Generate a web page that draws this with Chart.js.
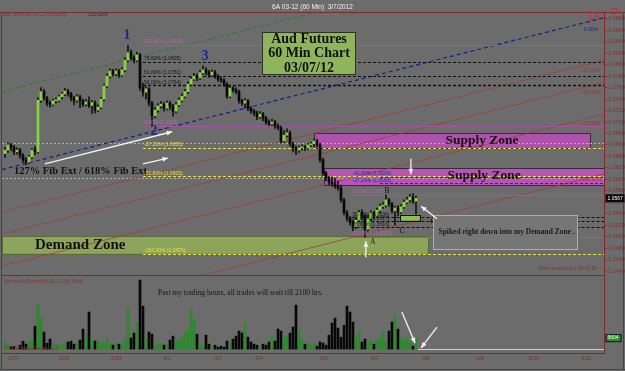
<!DOCTYPE html>
<html>
<head>
<meta charset="utf-8">
<title>6A 03-12 (60 Min) 3/7/2012</title>
<script src="https://cdn.jsdelivr.net/npm/chart.js@4.4.1/dist/chart.umd.min.js"></script>
<style>
html,body{margin:0;padding:0;background:#6c6c6c;overflow:hidden;}
canvas{display:block;}
</style>
</head>
<body>
<canvas id="chart" width="625" height="371"></canvas>
<script>
// ---------- DATA (hourly bars) ----------
const opens=[1.0645,1.0651,1.0660,1.0656,1.0648,1.0651,1.0642,1.0634,1.0630,1.0639,
1.0651,1.0648,1.0738,1.0753,1.0742,1.0733,1.0731,1.0737,1.0738,1.0744,
1.0749,1.0754,1.0749,1.0742,1.0738,1.0744,1.0737,1.0731,1.0735,1.0729,
1.0734,1.0721,1.0726,1.0740,1.0763,1.0780,1.0789,1.0784,1.0789,1.0782,
1.0791,1.0808,1.0821,1.0812,1.0808,1.0817,1.0760,1.0752,1.0758,1.0733,
1.0711,1.0721,1.0728,1.0731,1.0724,1.0733,1.0728,1.0719,1.0730,1.0738,
1.0745,1.0753,1.0766,1.0775,1.0780,1.0777,1.0786,1.0791,1.0787,1.0782,
1.0787,1.0780,1.0775,1.0773,1.0766,1.0745,1.0759,1.0756,1.0753,1.0737,
1.0733,1.0737,1.0724,1.0719,1.0716,1.0709,1.0714,1.0707,1.0700,1.0697,
1.0700,1.0693,1.0690,1.0667,1.0677,1.0681,1.0662,1.0655,1.0651,1.0655,
1.0656,1.0655,1.0660,1.0662,1.0667,1.0660,1.0634,1.0611,1.0602,1.0595,
1.0592,1.0588,1.0585,1.0564,1.0542,1.0532,1.0525,1.0518,1.0529,1.0542,
1.0536,1.0513,1.0532,1.0541,1.0536,1.0546,1.0553,1.0555,1.0564,1.0557,
1.0545,1.0550,1.0543,1.0552,1.0560,1.0564,1.0569,1.0562];
const highs=[1.0656,1.0664,1.0663,1.0659,1.0655,1.0654,1.0645,1.0638,1.0642,1.0654,
1.0657,1.0742,1.0760,1.0757,1.0745,1.0737,1.0740,1.0742,1.0747,1.0752,
1.0759,1.0757,1.0752,1.0745,1.0748,1.0747,1.0740,1.0739,1.0744,1.0738,
1.0737,1.0730,1.0743,1.0766,1.0784,1.0793,1.0792,1.0793,1.0792,1.0795,
1.0812,1.0834,1.0826,1.0816,1.0822,1.0820,1.0768,1.0762,1.0760,1.0736,
1.0725,1.0732,1.0736,1.0734,1.0737,1.0736,1.0731,1.0734,1.0742,1.0749,
1.0757,1.0770,1.0779,1.0785,1.0784,1.0790,1.0798,1.0795,1.0790,1.0791,
1.0790,1.0783,1.0779,1.0776,1.0769,1.0763,1.0762,1.0760,1.0756,1.0740,
1.0741,1.0739,1.0727,1.0722,1.0719,1.0718,1.0717,1.0710,1.0704,1.0705,
1.0703,1.0697,1.0693,1.0685,1.0688,1.0684,1.0665,1.0658,1.0658,1.0660,
1.0659,1.0663,1.0665,1.0670,1.0670,1.0663,1.0637,1.0614,1.0605,1.0604,
1.0602,1.0597,1.0590,1.0567,1.0546,1.0536,1.0529,1.0533,1.0546,1.0547,
1.0539,1.0537,1.0545,1.0544,1.0550,1.0557,1.0560,1.0573,1.0567,1.0560,
1.0553,1.0554,1.0556,1.0564,1.0569,1.0574,1.0575,1.0571];
const lows=[1.0638,1.0647,1.0650,1.0643,1.0644,1.0637,1.0629,1.0625,1.0627,1.0636,
1.0643,1.0645,1.0734,1.0738,1.0728,1.0726,1.0728,1.0733,1.0735,1.0740,
1.0746,1.0745,1.0737,1.0730,1.0734,1.0725,1.0727,1.0728,1.0725,1.0715,
1.0716,1.0718,1.0723,1.0737,1.0760,1.0777,1.0780,1.0781,1.0778,1.0779,
1.0788,1.0805,1.0808,1.0803,1.0805,1.0755,1.0745,1.0740,1.0728,1.0693,
1.0707,1.0717,1.0724,1.0719,1.0721,1.0722,1.0710,1.0716,1.0727,1.0735,
1.0742,1.0750,1.0763,1.0772,1.0772,1.0774,1.0783,1.0782,1.0778,1.0779,
1.0776,1.0771,1.0769,1.0762,1.0741,1.0742,1.0752,1.0749,1.0733,1.0729,
1.0724,1.0720,1.0715,1.0711,1.0704,1.0706,1.0702,1.0696,1.0693,1.0694,
1.0689,1.0686,1.0663,1.0664,1.0674,1.0658,1.0648,1.0643,1.0647,1.0651,
1.0650,1.0652,1.0657,1.0658,1.0656,1.0630,1.0607,1.0597,1.0590,1.0588,
1.0584,1.0581,1.0560,1.0538,1.0527,1.0520,1.0510,1.0514,1.0525,1.0530,
1.0499,1.0508,1.0528,1.0531,1.0533,1.0542,1.0549,1.0552,1.0553,1.0541,
1.0520,1.0536,1.0540,1.0549,1.0557,1.0560,1.0558,1.0539];
const closes=[1.0651,1.0660,1.0656,1.0648,1.0651,1.0642,1.0634,1.0630,1.0639,1.0651,
1.0648,1.0738,1.0753,1.0742,1.0733,1.0731,1.0737,1.0738,1.0744,1.0749,
1.0754,1.0749,1.0742,1.0738,1.0744,1.0737,1.0731,1.0735,1.0729,1.0734,
1.0721,1.0726,1.0740,1.0763,1.0780,1.0789,1.0784,1.0789,1.0782,1.0791,
1.0808,1.0821,1.0812,1.0808,1.0817,1.0760,1.0752,1.0758,1.0733,1.0711,
1.0721,1.0728,1.0731,1.0724,1.0733,1.0728,1.0719,1.0730,1.0738,1.0745,
1.0753,1.0766,1.0775,1.0780,1.0777,1.0786,1.0791,1.0787,1.0782,1.0787,
1.0780,1.0775,1.0773,1.0766,1.0745,1.0759,1.0756,1.0753,1.0737,1.0733,
1.0737,1.0724,1.0719,1.0716,1.0709,1.0714,1.0707,1.0700,1.0697,1.0700,
1.0693,1.0690,1.0667,1.0677,1.0681,1.0662,1.0655,1.0651,1.0655,1.0656,
1.0655,1.0660,1.0662,1.0667,1.0660,1.0634,1.0611,1.0602,1.0595,1.0592,
1.0588,1.0585,1.0564,1.0542,1.0532,1.0525,1.0518,1.0529,1.0542,1.0536,
1.0513,1.0532,1.0541,1.0536,1.0546,1.0553,1.0555,1.0564,1.0557,1.0545,
1.0550,1.0543,1.0552,1.0560,1.0564,1.0569,1.0562,1.0567];
const volumes=[4100,1500,1200,1400,1100,2000,4000,2500,3500,4500,
11700,23000,16300,8700,3000,5100,2000,2500,1500,2500,
3000,3600,4000,2500,3100,4600,10200,8200,18900,5100,
4100,4100,3100,2600,5100,2500,2000,3000,2500,2000,
5100,21000,5600,8200,13300,35200,21900,5600,8700,7600,
2000,2500,3000,2000,2500,4600,6600,5100,4100,6100,
8700,9700,20400,14800,7600,3100,1500,7100,2500,1500,
2000,1000,1500,1000,4100,3100,5100,6600,9200,8200,
13300,6100,3600,2500,2000,1500,2500,2000,3600,6600,
4100,10200,9200,5600,6600,8200,11200,22400,9700,4600,
2500,3100,2000,2500,1500,3600,3100,2000,7100,13300,
15800,10700,6100,12200,21900,18900,13800,6100,9200,3600,
5100,3100,4100,2500,4600,5600,8700,3600,9200,13800,
17300,10200,5600,4600,6100,3600,1500,5604];

const priceTicks=[1.0440,1.0460,1.0480,1.0500,1.0520,1.0540,1.0560,1.0580,1.0600,1.0620,1.0640,1.0660,
1.0680,1.0700,1.0720,1.0740,1.0760,1.0780,1.0800,1.0820,1.0840,1.0860,1.0880];
const dateLabels=['2/27','2/28','2/29','3/1','3/2','3/4','3/6','3/7','3/8','3/9','3/10','3/11'];
const dateTickIndex=[2.7,19.7,37,54,71,84.7,106.3,123.3,140.3,158.3,176.3,193.7];

// Fibonacci retracement / extension levels (percent, price)
const fib1Pct=[100,78.6,61.8,50,0,-27.2,-61.8,-154.2];
const fib1Price=[1.0835,1.0805,1.0781,1.0764,1.0693,1.0655,1.0605,1.0470];
const fib2Pct=[0,-27.2,-41.4,50,61.8,78.6,100];
const fib2Price=[1.0573,1.0593,1.0604,1.0534,1.0527,1.0516,1.0500];
// price channel (bar index, price) anchors, width and levels
const channelStart=[-1,1.0617];
const channelEnd=[199.67,1.0882];
const channelSpan=0.02725;
const channelLevels=[0.5,0,-0.272,-0.414,-0.618,-1.0];
const grayLevels=[1.0663,1.0602];

// ---------- BUILD ----------
const idx=closes.map((_,i)=>i);
const up=idx.map(i=>closes[i]>=opens[i]);
const bodyData=idx.map(i=>({x:i,y:[opens[i],closes[i]]}));
const wickData=idx.map(i=>({x:i,y:[lows[i],highs[i]]}));
const volData=idx.map(i=>({x:i,y:volumes[i]}));

const RED='#7e2a2a';
const pctLabel=(pct,p)=>pct.toFixed(2)+'% ('+p.toFixed(4)+')';

function seg(c,x0,y0,x1,y1,col,w,dash){c.beginPath();c.setLineDash(dash||[]);c.strokeStyle=col;c.lineWidth=w;c.moveTo(x0,y0);c.lineTo(x1,y1);c.stroke();c.setLineDash([]);}
function arrow(c,x1,y1,x2,y2){
  c.save();c.strokeStyle='#f2f2f2';c.fillStyle='#f2f2f2';c.lineWidth=1.3;
  c.beginPath();c.moveTo(x1,y1);c.lineTo(x2,y2);c.stroke();
  const a=Math.atan2(y2-y1,x2-x1),h=6;
  c.beginPath();c.moveTo(x2,y2);
  c.lineTo(x2-h*Math.cos(a-0.42),y2-h*Math.sin(a-0.42));
  c.lineTo(x2-h*Math.cos(a+0.42),y2-h*Math.sin(a+0.42));
  c.closePath();c.fill();c.restore();
}
function T(c,s,x,y,font,col,align,base){c.font=font;c.fillStyle=col;c.textAlign=align||'left';c.textBaseline=base||'middle';c.fillText(s,x,y);}

const overlay={
  id:'overlay',
  beforeDraw(chart){const c=chart.ctx;c.save();c.fillStyle='#6c6c6c';c.fillRect(0,0,chart.width,chart.height);c.restore();},
  beforeDatasetsDraw(chart){
    const c=chart.ctx,xs=chart.scales.x,ys=chart.scales.y,vs=chart.scales.yv;
    const X=v=>xs.getPixelForValue(v),Y=v=>ys.getPixelForValue(v),V=v=>vs.getPixelForValue(v);
    c.save();
    c.beginPath();c.rect(xs.left,ys.top,xs.right-xs.left,ys.bottom-ys.top);c.clip();
    const box=(i0,i1,p0,p1,fill,stroke)=>{
      const x0=X(i0),x1=X(i1),y0=Y(p1),y1=Y(p0);
      c.fillStyle=fill;c.fillRect(x0,y0,x1-x0,y1-y0);
      if(stroke){c.strokeStyle=stroke;c.lineWidth=1;c.strokeRect(Math.round(x0)+0.5,Math.round(y0)+0.5,Math.round(x1-x0),Math.round(y1-y0));}
    };
    box(-1,141,1.0470,1.0501,'#8ca55b','#5b6b3c');
    box(103,195,1.0654,1.0681,'rgba(200,72,200,0.72)','#3a2a3a');
    box(106.3,199.7,1.0590,1.0620,'rgba(205,78,205,0.75)','#3a2a3a');
    // gray dotted support lines
    grayLevels.forEach(p=>{const y=Math.round(Y(p))+0.5;seg(c,xs.left,y,xs.right,y,'#b0b0b0',1,[2,2]);});
    // channel
    channelLevels.forEach(l=>{
      const a=channelStart[1]+l*channelSpan,b=channelEnd[1]+l*channelSpan;
      const col=l>0?'#2f7d32':(l===0?'#1c1c8c':'#a23c3c');
      seg(c,X(channelStart[0]),Y(a),X(channelEnd[0]),Y(b),col,l<0?0.8:1.2,l<0?[]:[4,3]);
    });
    // fib set 1
    fib1Pct.forEach((pct,k)=>{
      const y=Math.round(Y(fib1Price[k]))+0.5;let col,w,d;
      if(pct===100||pct===0){col='#a455a4';w=1;d=[];}else if(pct>0){col='#101010';w=pct===50?1.5:1.1;d=[3,2];}else{col='#e6e23c';w=1.2;d=[3,2];}
      seg(c,X(46),y,xs.right,y,col,w,d);
    });
    // fib set 2
    fib2Pct.forEach((pct,k)=>{
      const y=Math.round(Y(fib2Price[k]))+0.5;let col,w,d,s=115.5;
      if(pct===100||pct===0){col='#a455a4';w=1;d=[];}else if(pct>0){col='#101010';w=1.1;d=[3,2];}else{col='#2a2aa8';w=1.1;d=[3,2];s=125;}
      seg(c,X(s),y,xs.right,y,col,w,d);
    });
    // small demand zone
    box(131.7,138.3,1.0528,1.0538,'#8cbf5a','#111');
    c.restore();
    // volume zero line after last bar
    c.save();const yz=Math.round(V(0))+0.5;seg(c,X(137.6),yz,xs.right,yz,'#cfcfcf',1,[]);c.restore();
  },
  afterDatasetsDraw(chart){
    const c=chart.ctx,xs=chart.scales.x,ys=chart.scales.y,vs=chart.scales.yv;
    const X=v=>xs.getPixelForValue(v),Y=v=>ys.getPixelForValue(v),V=v=>vs.getPixelForValue(v);
    c.save();
    const sm='5px "Liberation Sans"';
    // fib labels
    fib1Pct.forEach((pct,k)=>{
      const col=(pct===100||pct===0)?'#b565b5':(pct>0?'#151515':'#e6e23c');
      T(c,pctLabel(pct,fib1Price[k]),X(46)+1,Y(fib1Price[k])-3,sm,col);
    });
    fib2Pct.forEach((pct,k)=>{
      const col=(pct===100||pct===0)?'#b565b5':(pct>0?'#151515':'#2a2aa8');
      T(c,pctLabel(pct,fib2Price[k]),X(115.5)+1,Y(fib2Price[k])-3,sm,col);
    });
    // channel labels
    T(c,'0.00%',X(195.3),Y(1.0862),sm,'#22228a','center');
    T(c,'-27.20%',X(195.3),Y(1.0789),sm,'#a83030','center');
    T(c,'-41.40%',X(195.3),Y(1.0751),sm,'#a83030','center');
    T(c,'-61.80%',X(195.3),Y(1.0697),sm,'#a83030','center');
    T(c,'-100.00%',X(195.3),Y(1.0599),sm,'#a83030','center');
    T(c,'50.00%',X(115),Y(1.0889),sm,'#2f8a2f','center');
    T(c,'100.00%',X(31),Y(1.0887),sm,'#22228a','center');

    // zone texts
    const serifB=s=>'bold '+s+'px "Liberation Serif"';
    T(c,'Supply Zone',X(159),Y(1.0667),serifB(13.5),'#181018','center');
    T(c,'Supply Zone',X(159.7),Y(1.0606),serifB(13.5),'#181018','center');
    T(c,'Demand Zone',X(10),Y(1.0486),serifB(15),'#121212','left');
    T(c,'Demand Zone',X(141.7),Y(1.0527),serifB(7),'#121212','left');
    T(c,'127% Fib Ext / 618% Fib Ext',X(3),Y(1.0614),serifB(10.5),'#121212','left');

    // title box
    {const x0=Math.round(X(85.7))+0.5,x1=Math.round(X(116.7))+0.5,y0=Math.round(Y(1.0857))+0.5,y1=Math.round(Y(1.0784))+0.5;
     c.fillStyle='#8fb45e';c.fillRect(x0,y0,x1-x0,y1-y0);c.strokeStyle='#2c3420';c.lineWidth=1;c.strokeRect(x0,y0,x1-x0,y1-y0);
     const cx=(x0+x1)/2;
     T(c,'Aud Futures',cx,Y(1.0845),serifB(14),'#111','center');
     T(c,'60 Min Chart',cx,Y(1.0819),serifB(14),'#111','center');
     T(c,'03/07/12',cx,Y(1.0794),serifB(14),'#111','center');}

    // callout
    {const x0=Math.round(X(142.7))+0.5,x1=Math.round(X(190.7))+0.5,y0=Math.round(Y(1.0537))+0.5,y1=Math.round(Y(1.0478))+0.5;
     c.fillStyle='#767676';c.fillRect(x0,y0,x1-x0,y1-y0);c.strokeStyle='#9fb0c0';c.lineWidth=1;c.strokeRect(x0,y0,x1-x0,y1-y0);
     T(c,'Spiked right down into my Demand Zone .',x0+5,(y0+y1)/2,'bold 7.5px "Liberation Serif"','#1a1a1a','left');}

    // wave labels
    T(c,'1',X(40.7),Y(1.0852),serifB(14),'#1b2a8c','center');
    T(c,'2',X(49.7),Y(1.0684),serifB(14),'#1b2a8c','center');
    T(c,'3',X(66.7),Y(1.0814),serifB(14),'#1b2a8c','center');
    T(c,'A',X(122.6),Y(1.0491),'7.5px "Liberation Serif"','#111','center');
    T(c,'B',X(127.3),Y(1.0580),'7.5px "Liberation Serif"','#111','center');
    T(c,'C',X(132.3),Y(1.0509),'7.5px "Liberation Serif"','#111','center');

    // arrows
    arrow(c,X(13.3),Y(1.0627),X(55.7),Y(1.0683));
    arrow(c,X(46),Y(1.0627),X(54.3),Y(1.0637));
    arrow(c,X(120.3),Y(1.0464),X(120.3),Y(1.0492));
    arrow(c,X(135.3),Y(1.0636),X(135.3),Y(1.0609));
    arrow(c,X(144),Y(1.0531),X(138.7),Y(1.0553));
    arrow(c,X(132.3),V(18900),X(136.7),V(3000));
    arrow(c,X(144),V(11200),X(138.7),V(600));

    // volume panel text
    T(c,'Past my trading hours, all trades will wait till 2100 hrs.',X(51),V(28600),'7.5px "Liberation Serif"','#161616','left');
    T(c,'VolumeUpDown(6A 03-12 (60 Min))',xs.left+2,vs.top+7,sm,'#8a3030','left');
    T(c,'\u00A9 2012 NinjaTrader, LLC',xs.left+2,vs.bottom-4,sm,'#8a3030','left');
    T(c,'Time remaining = 00:11:55',xs.right-7,ys.bottom-6,sm,'#8a3030','right');
    c.restore();
  },
  afterDraw(chart){
    const c=chart.ctx,xs=chart.scales.x,ys=chart.scales.y,vs=chart.scales.yv;
    c.save();
    // frames
    c.strokeStyle=RED;c.lineWidth=1;
    const L=Math.round(xs.left)-0.5,R=Math.round(xs.right)+0.5;
    seg(c,0,Math.round(ys.top)+0.5,chart.width,Math.round(ys.top)+0.5,RED,1,[]);
    seg(c,L,ys.top,L,chart.height-1,RED,1,[]);
    seg(c,R,ys.top,R,vs.bottom+1,RED,1,[]);
    seg(c,L,Math.round(ys.bottom)+0.5,R,Math.round(ys.bottom)+0.5,RED,1,[]);
    seg(c,L,Math.round(vs.bottom)+0.5,R,Math.round(vs.bottom)+0.5,RED,1,[]);
    seg(c,0,chart.height-1.5,chart.width,chart.height-1.5,RED,1,[]);
    seg(c,chart.width-1.5,ys.top,chart.width-1.5,chart.height-1,RED,1,[]);
    // title
    T(c,'6A 03-12 (60 Min)  3/7/2012',chart.width/2,7,'6.5px "Liberation Sans"','#f0f0f0','center');
    T(c,'BarTimer(6A 03-12 (60 Min))',xs.left+1,ys.top+3,'5px "Liberation Sans"','#8a3030','left');
    // top-right icons
    c.strokeStyle='#b03a3a';c.lineWidth=1;
    c.beginPath();c.moveTo(590.5,11);c.lineTo(597,15.5);c.lineTo(590.5,20);c.closePath();c.stroke();
    seg(c,598.5,11,598.5,20,'#b03a3a',1.2,[]);
    c.strokeRect(611.5,8.5,5,5);
    // last price / last volume markers
    const lp=closes[closes.length-1],lv=volumes[volumes.length-1];
    const yp=ys.getPixelForValue(lp),yv=vs.getPixelForValue(lv);
    c.fillStyle='#0a0a0a';c.fillRect(R+1,yp-4,19,8);
    T(c,lp.toFixed(4),R+3,yp,'5px "Liberation Sans"','#ffffff','left');
    c.fillStyle='#2e8a2e';c.fillRect(R+1,yv-4,16,8);c.strokeStyle='#123';c.strokeRect(R+1.5,yv-3.5,15,7);
    T(c,String(lv).padStart(4,'0'),R+3,yv,'5px "Liberation Sans"','#ffffff','left');
    c.restore();
  }
};

new Chart(document.getElementById('chart'),{
  type:'bar',
  data:{datasets:[
    {label:'Body',data:bodyData,yAxisID:'y',barThickness:2,minBarLength:1,grouped:false,
     backgroundColor:idx.map(i=>up[i]?'#86d63a':'#080808'),borderWidth:0},
    {label:'Wick',data:wickData,yAxisID:'y',barThickness:1,grouped:false,backgroundColor:'#141414',borderWidth:0},
    {label:'Volume',data:volData,yAxisID:'yv',barThickness:2,grouped:false,
     backgroundColor:idx.map(i=>up[i]?'#2b8a2b':'#080808'),borderWidth:0}
  ]},
  options:{
    responsive:false,animation:false,devicePixelRatio:1,events:[],
    layout:{padding:{top:12,left:2,right:0,bottom:0}},
    plugins:{legend:{display:false},tooltip:{enabled:false}},
    scales:{
      x:{type:'linear',min:-1,max:199.67,offset:false,bounds:'data',
        grid:{display:false,drawTicks:false},border:{display:false},
        afterBuildTicks:s=>{s.ticks=dateTickIndex.map(v=>({value:v}));},
        afterFit:s=>{s.height=18;},
        ticks:{autoSkip:false,maxRotation:0,padding:2,color:'#8c2b2b',font:{family:'Liberation Sans',size:5.5},
          callback:(v,i)=>dateLabels[i]}},
      y:{type:'linear',position:'right',stack:'panes',stackWeight:263,min:1.0433,max:1.0892,bounds:'data',
        grid:{display:true,drawOnChartArea:false,drawTicks:true,tickLength:3,color:'#8c2b2b'},border:{display:false},
        afterBuildTicks:s=>{s.ticks=priceTicks.map(v=>({value:v}));},
        afterFit:s=>{s.width=21;},
        ticks:{autoSkip:false,padding:1,color:'#8c2b2b',font:{family:'Liberation Sans',size:5.5},callback:v=>Number(v).toFixed(4)}},
      yv:{type:'linear',position:'right',stack:'panes',stackWeight:78,min:-2000,max:37800,bounds:'data',
        grid:{display:false,drawTicks:false},border:{display:false},
        ticks:{display:false},afterFit:s=>{s.width=21;}}
    }
  },
  plugins:[overlay]
});
</script>
</body>
</html>
